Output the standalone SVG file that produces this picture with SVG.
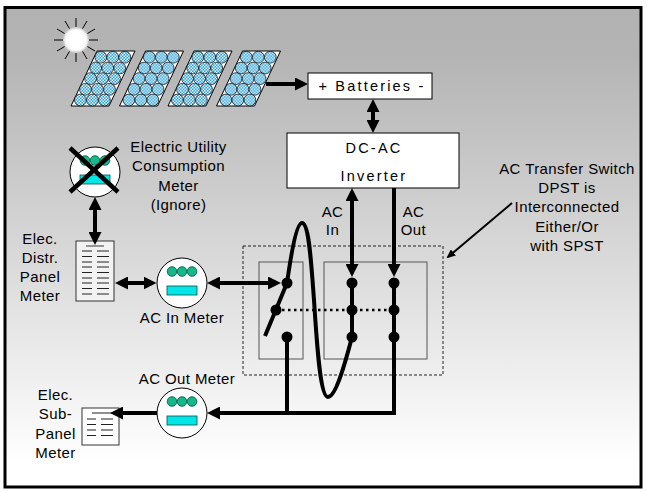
<svg xmlns="http://www.w3.org/2000/svg" xmlns:xlink="http://www.w3.org/1999/xlink" width="647" height="492" viewBox="0 0 647 492">
<style>
text{font-family:"Liberation Sans",Arial,sans-serif;font-size:15px;fill:#000;text-anchor:middle;letter-spacing:0.4px}
.box text{font-size:14.5px;letter-spacing:2.2px}
.wire{fill:none;stroke:#000;stroke-width:4}
.meter{fill:#fff;stroke:#000;stroke-width:1}
.grn{fill:#14b88a;stroke:#00513a;stroke-width:0.8}
.teal{fill:#00e6e6;stroke:#004d4d;stroke-width:0.8}
.pl{stroke:#222;stroke-width:1.2}
.dot{fill:#000}
</style>
<defs>
<linearGradient id="bg" x1="0" y1="0" x2="0" y2="1">
<stop offset="0" stop-color="#b2b2b2"/>
<stop offset="0.1" stop-color="#b4b4b4"/>
<stop offset="0.95" stop-color="#ffffff"/>
</linearGradient>
<pattern id="chk" width="3" height="3" patternUnits="userSpaceOnUse">
<rect width="3" height="3" fill="#2e9fd4"/>
<rect width="1.5" height="1.5" fill="#e8f8ff"/>
<rect x="1.5" y="1.5" width="1.5" height="1.5" fill="#e8f8ff"/>
</pattern>
<filter id="blur" x="-50%" y="-50%" width="200%" height="200%"><feGaussianBlur stdDeviation="0.9"/></filter>
<marker id="ah" viewBox="0 0 13 13" markerWidth="13" markerHeight="13" refX="9" refY="6.5" orient="auto-start-reverse" markerUnits="userSpaceOnUse">
<path d="M0,0 L13,6.5 L0,13 z" fill="#000"/>
</marker>
<marker id="as" viewBox="0 0 9 8" markerWidth="9" markerHeight="8" refX="7" refY="4" orient="auto" markerUnits="userSpaceOnUse">
<path d="M0,0 L9,4 L0,8 z" fill="#000"/>
</marker>
<g id="panel">
<polygon points="26,0 64,0 38,55 0,55" fill="#fff" stroke="#000" stroke-width="1"/>
<g fill="url(#chk)" stroke="#000" stroke-width="0.7">
<circle cx="29.8" cy="6.2" r="5.9"/><circle cx="41.8" cy="6.2" r="5.9"/><circle cx="53.8" cy="6.2" r="5.9"/>
<circle cx="24.7" cy="17" r="5.9"/><circle cx="36.7" cy="17" r="5.9"/><circle cx="48.7" cy="17" r="5.9"/>
<circle cx="19.6" cy="27.6" r="5.9"/><circle cx="31.6" cy="27.6" r="5.9"/><circle cx="43.6" cy="27.6" r="5.9"/>
<circle cx="14.5" cy="38.3" r="5.9"/><circle cx="26.5" cy="38.3" r="5.9"/><circle cx="38.5" cy="38.3" r="5.9"/>
<circle cx="9.4" cy="49" r="5.9"/><circle cx="21.4" cy="49" r="5.9"/><circle cx="33.4" cy="49" r="5.9"/>
</g>
</g>
<g id="mtr">
<circle r="25" class="meter"/>
<circle cx="-10" cy="-11.5" r="4.8" class="grn"/><circle cx="0" cy="-11.5" r="4.8" class="grn"/><circle cx="10" cy="-11.5" r="4.8" class="grn"/>
<rect x="-15" y="3" width="30" height="9" class="teal"/>
</g>
</defs>

<rect x="5" y="7.5" width="636" height="479.5" fill="url(#bg)" stroke="#000" stroke-width="3"/>

<g id="sun">
<g stroke="#000" stroke-width="1">
<line x1="89" y1="40" x2="98" y2="40"/><line x1="87.3" y1="46.5" x2="95" y2="51"/>
<line x1="82.5" y1="51.3" x2="87" y2="59"/><line x1="76" y1="53" x2="76" y2="62"/>
<line x1="69.5" y1="51.3" x2="65" y2="59"/><line x1="64.7" y1="46.5" x2="57" y2="51"/>
<line x1="63" y1="40" x2="54" y2="40"/><line x1="64.7" y1="33.5" x2="57" y2="29"/>
<line x1="69.5" y1="28.7" x2="65" y2="21"/><line x1="76" y1="27" x2="76" y2="18"/>
<line x1="82.5" y1="28.7" x2="87" y2="21"/><line x1="87.3" y1="33.5" x2="95" y2="29"/>
</g>
<circle cx="76" cy="40" r="12" fill="#fff" filter="url(#blur)"/>
</g>

<g id="solar-panels">
<use xlink:href="#panel" transform="translate(71,51)"/>
<use xlink:href="#panel" transform="translate(119.5,51)"/>
<use xlink:href="#panel" transform="translate(168,51)"/>
<use xlink:href="#panel" transform="translate(216.5,51)"/>
</g>

<g id="batteries" class="box">
<rect x="308" y="73" width="124" height="26" fill="#fff" stroke="#000" stroke-width="1"/>
<text x="372" y="90.7">+ Batteries -</text>
</g>

<g id="inverter" class="box">
<rect x="287" y="133" width="172" height="55" fill="#fff" stroke="#000" stroke-width="1"/>
<text x="374" y="153">DC-AC</text>
<text x="374" y="180.5">Inverter</text>
</g>

<g id="transfer-switch">
<rect x="243" y="246" width="200" height="129" fill="none" stroke="#222" stroke-width="1" stroke-dasharray="3,2"/>
<rect x="259" y="262" width="44" height="97" fill="none" stroke="#555" stroke-width="1"/>
<rect x="324" y="262" width="103" height="97" fill="none" stroke="#555" stroke-width="1"/>
<line x1="276" y1="310" x2="394" y2="310" stroke="#000" stroke-width="2.5" stroke-dasharray="2.5,3.5"/>
<line x1="265" y1="336" x2="287" y2="283" class="wire"/>
<line x1="352" y1="283" x2="352" y2="337" class="wire"/>
<circle cx="287" cy="283" r="5.5" class="dot"/>
<circle cx="276" cy="310" r="5.5" class="dot"/>
<circle cx="287" cy="337" r="5.5" class="dot"/>
<circle cx="352" cy="283" r="5.5" class="dot"/>
<circle cx="352" cy="310" r="5.5" class="dot"/>
<circle cx="352" cy="337" r="5.5" class="dot"/>
<circle cx="394" cy="283" r="5.5" class="dot"/>
<circle cx="394" cy="310" r="5.5" class="dot"/>
<circle cx="394" cy="337" r="5.5" class="dot"/>
<text x="567" y="174">AC Transfer Switch</text>
<text x="567" y="193">DPST is</text>
<text x="567" y="212">Interconnected</text>
<text x="567" y="231.5">Either/Or</text>
<text x="567" y="251">with SPST</text>
</g>

<g id="utility-meter">
<use xlink:href="#mtr" transform="translate(95,172)"/>
<g stroke="#000" stroke-width="4.5">
<line x1="70" y1="148" x2="118" y2="192"/>
<line x1="118" y1="148" x2="70" y2="192"/>
</g>
<text x="178.5" y="152">Electric Utility</text>
<text x="178.5" y="171.3">Consumption</text>
<text x="178.5" y="190.6">Meter</text>
<text x="178.5" y="209.9">(Ignore)</text>
</g>

<g id="distr-panel">
<rect x="76" y="241" width="38" height="60" fill="#f2f2f2" stroke="#333" stroke-width="1"/>
<line x1="86" y1="246" x2="104" y2="246" stroke="#777" stroke-width="1.5"/>
<g class="pl">
<path d="M82,251H92M97,251H109M82,256.5H92M97,256.5H109M82,262H92M97,262H109M82,267H92M97,267H109M82,272.5H92M97,272.5H109M82,278H92M97,278H109M82,283H92M97,283H109M82,288.5H92M97,288.5H109M82,294H92M97,294H109"/>
</g>
<text x="40" y="244">Elec.</text>
<text x="40" y="263">Distr.</text>
<text x="40" y="282">Panel</text>
<text x="40" y="301">Meter</text>
</g>

<g id="ac-in-meter">
<use xlink:href="#mtr" transform="translate(182,283)"/>
<text x="182" y="323">AC In Meter</text>
</g>

<g id="ac-out-meter">
<use xlink:href="#mtr" transform="translate(182,413)"/>
<text x="187" y="384">AC Out Meter</text>
</g>

<g id="sub-panel">
<rect x="82" y="408" width="37" height="37" fill="#fff" stroke="#333" stroke-width="1"/>
<g class="pl">
<path d="M92,413H113M87,419H96M101,419H113M87,424.5H96M101,424.5H113M87,430H96M101,430H113M87,435.5H96M101,435.5H113"/>
</g>
<text x="55.5" y="400">Elec.</text>
<text x="55.5" y="419.3">Sub-</text>
<text x="55.5" y="438.7">Panel</text>
<text x="55.5" y="458">Meter</text>
</g>

<g id="connectors">
<path d="M266,84H304" class="wire" marker-end="url(#ah)"/>
<path d="M373,103V129" class="wire" marker-start="url(#ah)" marker-end="url(#ah)"/>
<path d="M352,192V273" class="wire" marker-start="url(#ah)" marker-end="url(#ah)"/>
<path d="M394,188V273" class="wire" marker-end="url(#ah)"/>
<path d="M394,283V413H211" class="wire" marker-end="url(#ah)"/>
<path d="M287,337V413" class="wire"/>
<path d="M287,283C290,262 296,223 302,223C309,223 311,260 314,300C317,345 320,397 328,397C336,397 346,360 352,337" class="wire"/>
<path d="M211,283H277" class="wire" marker-start="url(#ah)" marker-end="url(#ah)"/>
<path d="M119,283H152.5" class="wire" marker-start="url(#ah)" marker-end="url(#ah)"/>
<path d="M95,201V241" class="wire" marker-start="url(#ah)" marker-end="url(#ah)"/>
<path d="M157,413H114" class="wire" marker-end="url(#ah)"/>
<path d="M512,203L448,257" fill="none" stroke="#000" stroke-width="2" marker-end="url(#as)"/>
<text x="332.5" y="217">AC</text>
<text x="332.5" y="235">In</text>
<text x="413.5" y="217">AC</text>
<text x="413.5" y="235">Out</text>
</g>
</svg>
